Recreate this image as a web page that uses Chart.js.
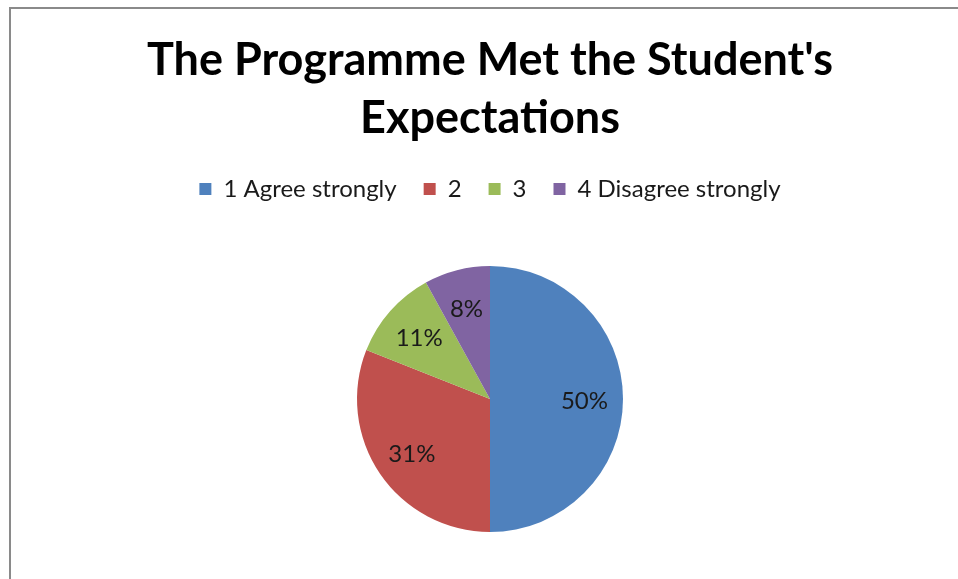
<!DOCTYPE html>
<html lang="en">
<head>
    <meta charset="UTF-8">
    <title>The Programme Met the Student's Expectations</title>
    <script src="https://cdn.jsdelivr.net/npm/chart.js"></script>
    <style>
        body { margin: 0; background: #fff; }
        #wrap { position: relative; width: 958px; height: 579px; }
        #cadre {
            position: absolute; left: 9px; top: 7px; right: 0; bottom: 0;
            border-left: 2px solid #8a8a8a; border-top: 2px solid #8a8a8a;
            pointer-events: none;
        }
    </style>
</head>
<body>
    <div id="wrap">
        <canvas id="chartAttentes" width="958" height="579"></canvas>
        <div id="cadre"></div>
    </div>
    <script>
        // Données
        const categories = ['1 Agree strongly', '2', '3', '4 Disagree strongly'];
        const pourcentages = [50, 31, 11, 8];
        const couleurs = ['#4F81BD', '#C0504D', '#9BBB59', '#8064A2'];

        const POLICE = 'Lato, "Open Sans", sans-serif';

        // Étiquettes de pourcentage dans les parts
        const etiquettes = {
            id: 'etiquettes',
            afterDatasetsDraw(chart) {
                const ctx = chart.ctx;
                const meta = chart.getDatasetMeta(0);
                const total = pourcentages.reduce((a, b) => a + b, 0);
                ctx.save();
                ctx.font = '24px ' + POLICE;
                ctx.fillStyle = '#1a1a1a';
                ctx.textAlign = 'center';
                ctx.textBaseline = 'middle';
                meta.data.forEach(function (arc, i) {
                    const p = arc.getProps(['x', 'y', 'startAngle', 'endAngle', 'outerRadius'], true);
                    const milieu = (p.startAngle + p.endAngle) / 2;
                    const r = p.outerRadius * 0.71;
                    const val = Math.round(pourcentages[i] / total * 100);
                    ctx.fillText(val + '%', p.x + Math.cos(milieu) * r, p.y + Math.sin(milieu) * r + 2);
                });
                ctx.restore();
            }
        };

        const ctx = document.getElementById('chartAttentes').getContext('2d');
        new Chart(ctx, {
            type: 'pie',
            data: {
                labels: categories,
                datasets: [{
                    data: pourcentages,
                    backgroundColor: couleurs,
                    borderWidth: 0
                }]
            },
            options: {
                responsive: false,
                animation: false,
                layout: { padding: { top: 0, bottom: 47, left: 22, right: 0 } },
                plugins: {
                    title: {
                        display: true,
                        text: ["The Programme Met the Student's", 'Expectations'],
                        color: '#000',
                        font: { family: POLICE, size: 45, weight: 'bold', lineHeight: 58 / 45 },
                        padding: { top: 31, bottom: 3 }
                    },
                    legend: {
                        position: 'top',
                        labels: {
                            color: '#1a1a1a',
                            font: { family: POLICE, size: 24 },
                            boxWidth: 12,
                            boxHeight: 12,
                            padding: 27
                        }
                    },
                    // espace vide sous la légende
                    subtitle: {
                        display: true,
                        text: ' ',
                        weight: 500,
                        font: { size: 10, lineHeight: 1.2 },
                        padding: { top: 43, bottom: 0 }
                    },
                    tooltip: { enabled: false }
                }
            },
            plugins: [etiquettes]
        });
    </script>
</body>
</html>
